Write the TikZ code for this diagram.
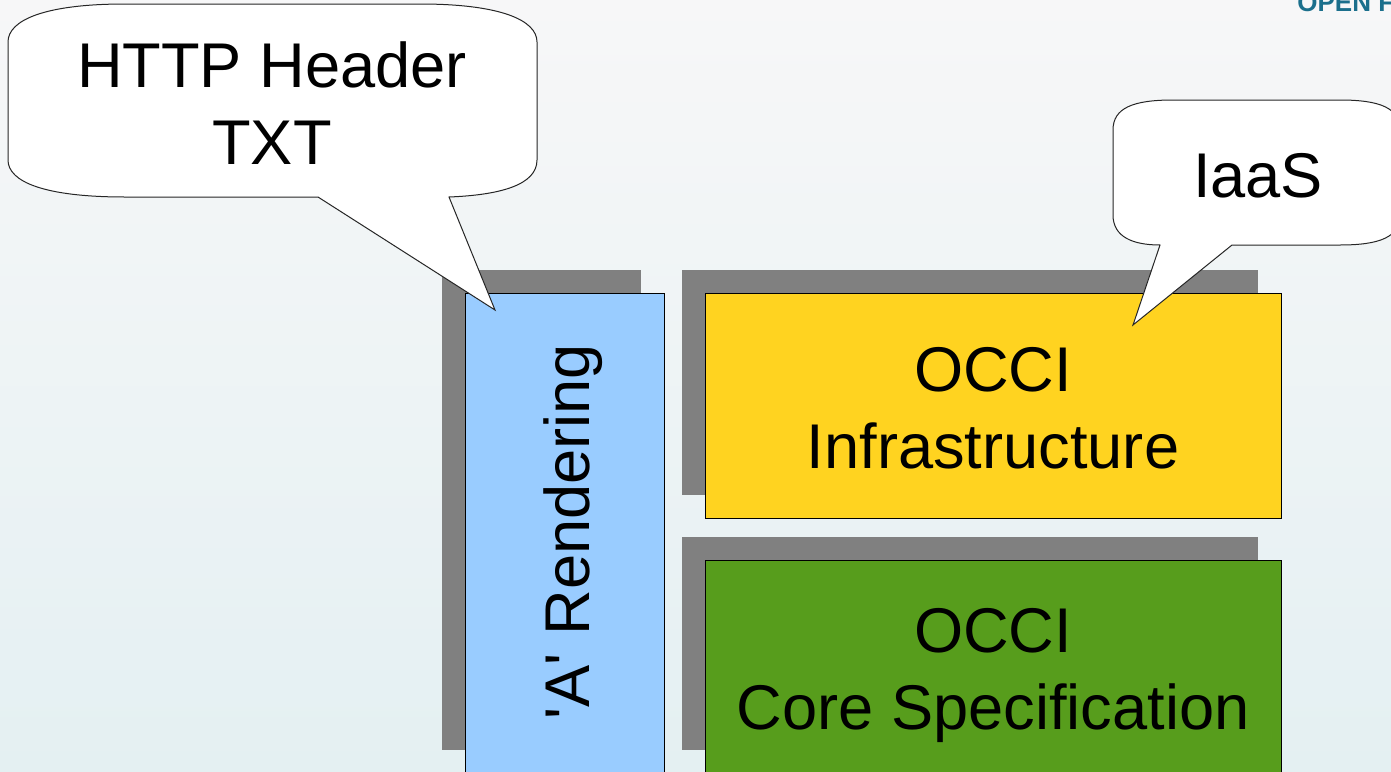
\documentclass[tikz,border=0pt]{standalone}
\usepackage{fontspec}
\setmainfont{Liberation Sans}[Ligatures=TeXOff]

\definecolor{rendering}{HTML}{99CCFF}
\definecolor{infra}{HTML}{FFD320}
\definecolor{core}{HTML}{579D1C}
\definecolor{shadowgray}{HTML}{808080}
\definecolor{logoteal}{HTML}{1B6F8C}
\definecolor{bgtop}{HTML}{F7F7F8}
\definecolor{bgmid}{HTML}{F1F1F6}
\definecolor{bgbot}{HTML}{E4F0F2}

\begin{document}
\begin{tikzpicture}[x=0.5pt,y=-0.5pt,
	layer/.style={draw=black,line width=0.5pt},
	bubble/.style={draw=black!85,fill=white,line width=0.5pt},
	big text/.style={font=\fontsize{31.6}{38.5}\selectfont,align=center,inner sep=0pt}]
	\def\d{23} % shadow offset
	
	\useasboundingbox (0,0) rectangle (1391,771);
	\clip (0,0) rectangle (1391,771);
	\shade[top color=bgtop,middle color=bgmid,bottom color=bgbot] (0,0) rectangle (1391,771);
	\node[anchor=base west,inner sep=0pt,text=logoteal,font=\bfseries\fontsize{13}{13}\selectfont] (logo) at (1297,11) {OPEN F};
	
	% shadows, then the layers
	\foreach \xa/\ya/\xb/\yb in {465/293/664/773,705/293/1281/518,705/560/1281/773}
		\fill[shadowgray] (\xa-\d,\ya-\d) rectangle (\xb-\d,\yb-\d);
	\draw[layer,fill=rendering] (465,293) rectangle (664,773);
	\draw[layer,fill=infra] (705,293) rectangle (1281,518);
	\draw[layer,fill=core] (705,560) rectangle (1281,773);
	
	\node[big text,rotate=90] (render) at (573,531.5) {'A' Rendering};
	\node[big text] (infra) at (993,408.5) {OCCI\\Infrastructure};
	\node[big text] (core) at (993,675.5) {OCCI\\Core Specification};
	
	% callouts
	\draw[bubble] (318,197) -- (495,310) -- (449,197) .. controls (500,195) and (537,185) .. (537,160)
		-- (537,42) .. controls (537,20) and (500,4) .. (420,4) -- (125,4) .. controls (45,4) and (8,20) .. (8,42)
		-- (8,160) .. controls (8,182) and (45,197) .. (125,197) -- cycle;
	\node[big text] (http) at (272,103.5) {HTTP Header\\TXT};
	
	\draw[bubble] (1160,245) -- (1133,325) -- (1232,245) -- (1340,245) .. controls (1380,245) and (1400,237) .. (1400,215)
		-- (1400,130) .. controls (1400,108) and (1380,100) .. (1340,100) -- (1173,100) .. controls (1133,100) and (1113,108) .. (1113,130)
		-- (1113,215) .. controls (1113,237) and (1133,245) .. (1160,245) -- cycle;
	\node[big text] (iaas) at (1258,175.5) {IaaS};
\end{tikzpicture}
\end{document}
